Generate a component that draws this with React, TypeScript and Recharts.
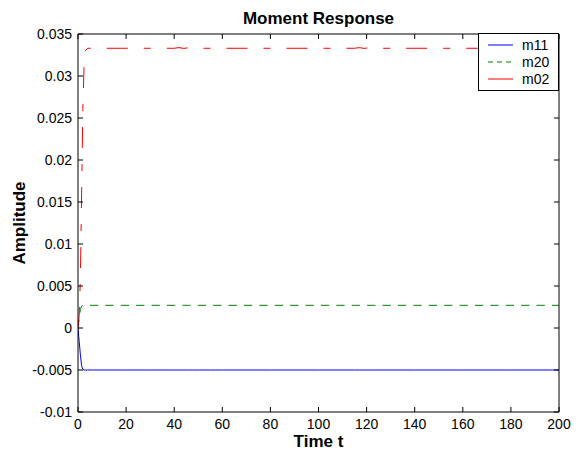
import { LineChart, Line, XAxis, YAxis, Legend, Label } from "recharts"

// time samples (s) and the three moment responses
const time = [0, 0.5, 1, 1.5, 2, 2.5, 3, 4, 6, 10, 20, 30, 40, 42, 44, 46, 48, 50, 55, 57, 60, 80, 100, 115, 117, 119, 121, 123, 140, 160, 180, 200]
const m11 = [0, -0.0016, -0.0032, -0.0045, -0.0049, -0.005, -0.005, -0.005, -0.005, -0.005, -0.005, -0.005, -0.005, -0.005, -0.005, -0.005, -0.005, -0.005, -0.005, -0.005, -0.005, -0.005, -0.005, -0.005, -0.005, -0.005, -0.005, -0.005, -0.005, -0.005, -0.005, -0.005]
const m20 = [0, 0.0012, 0.0022, 0.0026, 0.0027, 0.0027, 0.0027, 0.0027, 0.0027, 0.0027, 0.0027, 0.0027, 0.0027, 0.0027, 0.0027, 0.0027, 0.0027, 0.0027, 0.0027, 0.0027, 0.0027, 0.0027, 0.0027, 0.0027, 0.0027, 0.0027, 0.0027, 0.0027, 0.0027, 0.0027, 0.0027, 0.0027]
const m02 = [0, 0.0015, 0.006, 0.016, 0.026, 0.031, 0.033, 0.0333, 0.0333, 0.0333, 0.0333, 0.0333, 0.0333, 0.03338, 0.03328, 0.03338, 0.03328, 0.0333, 0.0333, 0.03337, 0.0333, 0.0333, 0.0333, 0.0333, 0.03338, 0.03328, 0.03338, 0.0333, 0.0333, 0.0333, 0.0333, 0.0333]

const xTicks = [0, 20, 40, 60, 80, 100, 120, 140, 160, 180, 200]
const yTicks = [-0.01, -0.005, 0, 0.005, 0.01, 0.015, 0.02, 0.025, 0.03, 0.035]

const seriesNames = ["m11", "m20", "m02"]
const seriesColors = ["#0000ff", "#008000", "#ff0000"]

const data = time.map((t, i) => ({ t, m11: m11[i], m20: m20[i], m02: m02[i] }))

// matlab draws the m02 legend sample solid even though the trace is dash-dot
const legendDash = [undefined, "5 4", undefined]

const renderLegend = () => (
    <svg width={82} height={59} style={{ display: "block" }}>
        <rect x={0.5} y={0.5} width={80} height={57} fill="#fff" stroke="#000" />
        {seriesNames.map((name, i) => {
            const cy = 12 + i * 17
            return (
                <g key={name}>
                    <line x1={10} x2={35} y1={cy} y2={cy} stroke={seriesColors[i]} strokeDasharray={legendDash[i]} />
                    <text x={44} y={cy} dy="0.36em" fontSize={14} fill="#000">{name}</text>
                </g>
            )
        })}
    </svg>
)

// top/right box axes keep their inward tick marks but show no labels
const NoLabel = () => <g />

const tickStyle = { fontSize: 14, fill: "#000" }
const labelStyle = { fontSize: 17, fontWeight: 700, fill: "#000" }

export default function App() {
    return (
        <div style={{ position: "absolute", left: 0, top: 0, background: "#fff", fontFamily: "'Liberation Sans', Arial, sans-serif" }}>
            <LineChart width={579} height={456} data={data} margin={{ top: 33, right: 19, bottom: 0, left: 0 }}>
                <XAxis dataKey="t" type="number" domain={[0, 200]} ticks={xTicks} height={44} interval={0}
                    tickSize={-5} tickMargin={12} tick={tickStyle} stroke="#000" allowDataOverflow>
                    <Label value="Time t" position="insideBottom" offset={9} style={labelStyle} />
                </XAxis>
                <XAxis xAxisId="top" dataKey="t" orientation="top" type="number" domain={[0, 200]} ticks={xTicks} height={1} interval={0}
                    tickSize={-5} tick={<NoLabel />} stroke="#000" allowDataOverflow>
                    <Label value="Moment Response" position="top" offset={9} style={labelStyle} />
                </XAxis>
                <YAxis type="number" domain={[-0.01, 0.035]} ticks={yTicks} width={78} interval={0}
                    tickSize={-5} tickMargin={11} tick={tickStyle} stroke="#000" tickFormatter={(v: number) => String(v)} allowDataOverflow>
                    <Label value="Amplitude" angle={-90} position="insideLeft" offset={19} style={{ ...labelStyle, textAnchor: "middle" }} />
                </YAxis>
                <YAxis yAxisId="right" orientation="right" type="number" domain={[-0.01, 0.035]} ticks={yTicks} width={1} interval={0}
                    tickSize={-5} tick={<NoLabel />} stroke="#000" allowDataOverflow />
                <Legend layout="horizontal" verticalAlign="middle" align="center" content={renderLegend}
                    wrapperStyle={{ position: "absolute", left: 478, top: 33, width: 82, height: 59 }} />
                <Line dataKey="m11" name="m11" stroke={seriesColors[0]} strokeWidth={1} dot={false} isAnimationActive={false} />
                <Line dataKey="m20" name="m20" stroke={seriesColors[1]} strokeWidth={1} strokeDasharray="8.3 7.1" dot={false} isAnimationActive={false} />
                <Line dataKey="m02" name="m02" stroke={seriesColors[2]} strokeWidth={1} strokeDasharray="21 16 7 16" dot={false} isAnimationActive={false} />
            </LineChart>
        </div>
    )
}
